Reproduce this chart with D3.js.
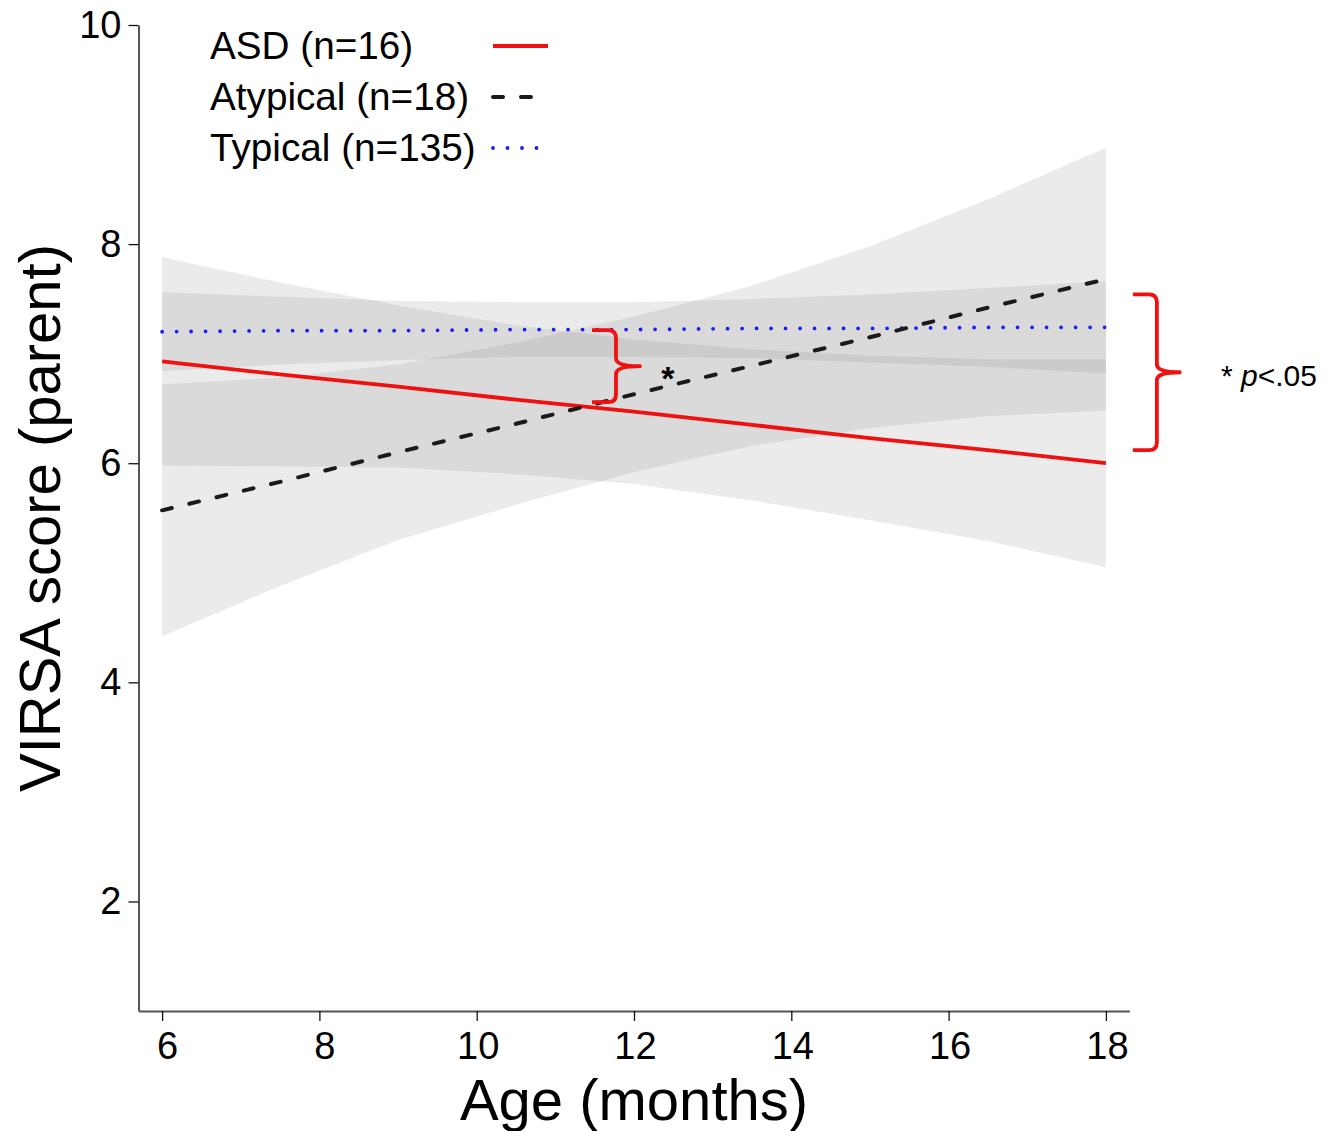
<!DOCTYPE html>
<html>
<head>
<meta charset="utf-8">
<script src="https://cdn.jsdelivr.net/npm/d3@7"></script>
<style>
  body { margin: 0; background: #fff; }
  svg { display: block; font-family: "Liberation Sans", Arial, Helvetica, sans-serif; }
</style>
</head>
<body>
<svg id="chart" width="1325" height="1131"></svg>
<script>
// Ages (months) at which the fitted lines and 95% bands are evaluated
const ages = [6, 7.5, 9, 10.5, 12, 13.5, 15, 16.5, 18];

// ASD group: fitted VIRSA score and confidence band
const asdFit = [6.93, 6.81, 6.70, 6.58, 6.47, 6.35, 6.23, 6.12, 6.00];
const asdLow = [5.98, 5.97, 5.96, 5.90, 5.81, 5.66, 5.48, 5.29, 5.05];
const asdHigh = [7.88, 7.65, 7.44, 7.26, 7.13, 7.04, 6.98, 6.95, 6.95];

// Atypical group
const atypFit = [5.57, 5.83, 6.10, 6.36, 6.63, 6.89, 7.15, 7.42, 7.68];
const atypLow = [4.42, 4.88, 5.30, 5.62, 5.92, 6.16, 6.32, 6.43, 6.48];
const atypHigh = [6.72, 6.78, 6.90, 7.10, 7.34, 7.62, 7.98, 8.41, 8.88];

// Typical group
const typFit = [7.20, 7.21, 7.21, 7.22, 7.22, 7.23, 7.23, 7.24, 7.24];
const typLow = [6.84, 6.90, 6.94, 6.97, 6.97, 6.96, 6.92, 6.88, 6.82];
const typHigh = [7.56, 7.52, 7.48, 7.47, 7.47, 7.50, 7.54, 7.60, 7.66];

const groupLabels = ["ASD (n=16)", "Atypical (n=18)", "Typical (n=135)"];
const xTickValues = [6, 8, 10, 12, 14, 16, 18];
const yTickValues = [2, 4, 6, 8, 10];

const series = [
  { label: groupLabels[0], fit: asdFit, low: asdLow, high: asdHigh,
    color: "#f01010", width: 3.8, dash: null, cap: "butt" },
  { label: groupLabels[1], fit: atypFit, low: atypLow, high: atypHigh,
    color: "#1a1a1a", width: 4, dash: "10,18", cap: "round" },
  { label: groupLabels[2], fit: typFit, low: typLow, high: typHigh,
    color: "#1a1aff", width: 3.8, dash: "0,14.5", cap: "round" }
];

const svg = d3.select("#chart");

const x = d3.scaleLinear().domain([5.7, 18.3]).range([138.5, 1129.5]);
const y = d3.scaleLinear().domain([1, 10]).range([1011, 25]);

// Confidence bands (semi-transparent grey so overlaps darken)
const band = d3.area()
  .x((d, i) => x(ages[i]))
  .y0(d => y(d[0]))
  .y1(d => y(d[1]));

svg.append("g").selectAll("path")
  .data(series)
  .join("path")
  .attr("d", s => band(s.low.map((v, i) => [v, s.high[i]])))
  .attr("fill", "#7a7a7a")
  .attr("fill-opacity", 0.15)
  .attr("stroke", "none");

// Fitted lines: typical (dotted) first, then ASD, then atypical on top
const line = d3.line()
  .x((d, i) => x(ages[i]))
  .y(d => y(d));

const drawOrder = [series[2], series[0], series[1]];
svg.append("g").selectAll("path")
  .data(drawOrder)
  .join("path")
  .attr("d", s => line(s.fit))
  .attr("fill", "none")
  .attr("stroke", s => s.color)
  .attr("stroke-width", s => s.width)
  .attr("stroke-linecap", s => s.cap)
  .attr("stroke-dasharray", s => s.dash);

// Axes
const xAxis = d3.axisBottom(x)
  .tickValues(xTickValues)
  .tickFormat(d3.format("d"))
  .tickSizeInner(10)
  .tickSizeOuter(0)
  .tickPadding(11);

const yAxis = d3.axisLeft(y)
  .tickValues(yTickValues)
  .tickFormat(d3.format("d"))
  .tickSizeInner(10)
  .tickSizeOuter(0)
  .tickPadding(7);

function styleAxis(g) {
  g.select(".domain").attr("stroke", "#555").attr("stroke-width", 2);
  g.selectAll(".tick line").attr("stroke", "#111").attr("stroke-width", 1.3);
  g.selectAll(".tick text")
    .attr("fill", "#000")
    .style("font-size", "38px")
    .style("font-family", "'Liberation Sans', Arial, sans-serif");
}

svg.append("g")
  .attr("transform", `translate(0,${y(1)})`)
  .call(xAxis)
  .call(styleAxis)
  .selectAll(".tick text").attr("dx", d => (d < 10 ? 5 : 1));

svg.append("g")
  .attr("transform", `translate(${x(5.7)},0)`)
  .call(yAxis)
  .call(styleAxis);

// Axis titles
svg.append("text")
  .attr("x", (x(5.7) + x(18.3)) / 2)
  .attr("y", 1120)
  .attr("text-anchor", "middle")
  .style("font-size", "58px")
  .text("Age (months)");

svg.append("text")
  .attr("transform", `translate(60,${(y(1) + y(10)) / 2}) rotate(-90)`)
  .attr("text-anchor", "middle")
  .style("font-size", "58px")
  .text("VIRSA score (parent)");

// Legend
const legend = svg.append("g");
series.forEach((s, i) => {
  const cy = 46 + i * 51;
  legend.append("text")
    .attr("x", 210)
    .attr("y", cy + 13)
    .style("font-size", "38.7px")
    .text(s.label);
  legend.append("line")
    .attr("x1", 493).attr("x2", 548)
    .attr("y1", cy).attr("y2", cy)
    .attr("stroke", s.color)
    .attr("stroke-width", s.width)
    .attr("stroke-linecap", s.cap)
    .attr("stroke-dasharray", s.dash);
});

// Significance braces
function bracePath(a0, aLine, aTip, vTop, vBot) {
  const x0 = x(a0), xv = x(aLine), xt = x(aTip);
  const yt = y(vTop), yb = y(vBot), ym = (yt + yb) / 2;
  const r = 8;
  return `M${x0},${yt} H${xv - r} Q${xv},${yt} ${xv},${yt + r}` +
         ` V${ym - r} Q${xv},${ym} ${xt},${ym}` +
         ` Q${xv},${ym} ${xv},${ym + r}` +
         ` V${yb - r} Q${xv},${yb} ${xv - r},${yb} H${x0}`;
}

const braces = svg.append("g")
  .attr("fill", "none")
  .attr("stroke", "#f01010")
  .attr("stroke-width", 3.8)
  .attr("stroke-linejoin", "round");

braces.append("path").attr("d", bracePath(11.466, 11.771, 12.076, 7.214, 6.557));
braces.append("path").attr("d", bracePath(18.343, 18.648, 18.94, 7.542, 6.119));

svg.append("text")
  .attr("x", x(12.43))
  .attr("y", 390)
  .attr("text-anchor", "middle")
  .style("font-size", "34px")
  .style("font-weight", "bold")
  .text("*");

const pText = svg.append("text")
  .attr("x", 1221)
  .attr("y", 386)
  .style("font-size", "30px");
pText.append("tspan").text("* ");
pText.append("tspan").style("font-style", "italic").text("p");
pText.append("tspan").text("<.05");
</script>
</body>
</html>
